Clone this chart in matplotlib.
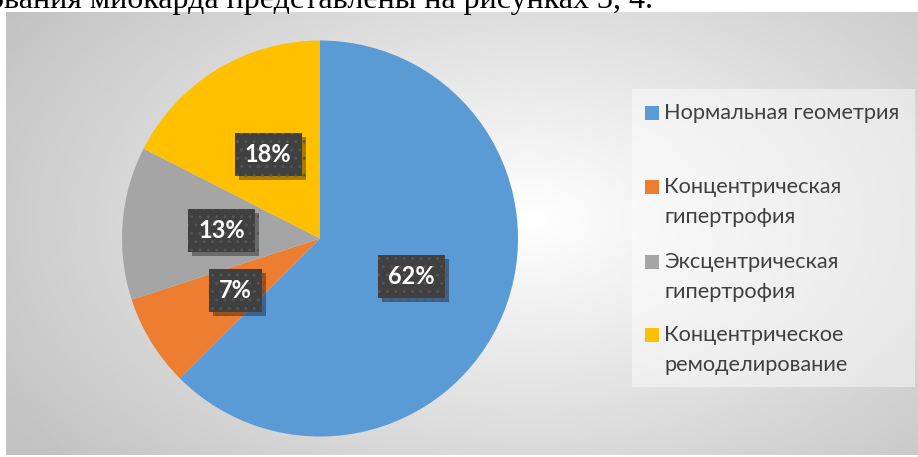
import numpy as np
import matplotlib.pyplot as plt
from matplotlib.patches import Rectangle
import matplotlib.patheffects as pe

W, H = 918, 457

categories = ["Нормальная геометрия", "Концентрическая\nгипертрофия",
              "Эксцентрическая\nгипертрофия", "Концентрическое\nремоделирование"]
shares = [62.5, 7.5, 12.5, 17.5]
pct_labels = ["62%", "7%", "13%", "18%"]
colors = ["#5b9bd5", "#ed7d31", "#a5a5a5", "#ffc000"]
caption = "ования миокарда представлены на рисунках 3, 4."


def fx(px):
    return px / W


def fy(py):
    return 1 - py / H


fig = plt.figure(figsize=(W / 100, H / 100), dpi=100)
fig.patch.set_facecolor("white")

# chart area with radial gradient
bg = fig.add_axes([fx(6), fy(455), fx(912), 443 / H])
xx, yy = np.meshgrid(np.linspace(6, 918, 400), np.linspace(12, 455, 200))
d = np.sqrt(((xx - 530) / 540) ** 2 + ((yy - 220) / 330) ** 2)
g = 1.0 - 0.24 * np.clip(d, 0, 1.15) / 1.15
bg.imshow(g, cmap="gray", vmin=0, vmax=1, aspect="auto",
          extent=[0, 1, 0, 1], interpolation="bilinear")
bg.set_axis_off()

# text of the document above the chart (cut at the top, as in the source)
fig.text(fx(-12), fy(8), caption, fontsize=23, family="Liberation Serif",
         va="baseline", ha="left", color="black", zorder=0)

# pie
r = 198
cx, cy = 320, 238.5
ax = fig.add_axes([fx(cx - r), fy(cy + r), 2 * r / W, 2 * r / H])
wedges, _ = ax.pie(shares, colors=colors, startangle=90, counterclock=False,
                   radius=1, wedgeprops=dict(linewidth=0))
ax.set_xlim(-1, 1)
ax.set_ylim(-1, 1)
ax.set_axis_off()

for w, lab in zip(wedges, pct_labels):
    ang = np.deg2rad((w.theta1 + w.theta2) / 2)
    t = ax.text(0.5 * np.cos(ang), 0.5 * np.sin(ang), lab, ha="center",
                va="center", color="white", fontsize=17, fontweight="bold",
                family="Lato",
                bbox=dict(boxstyle="square,pad=0.42", facecolor="#404040",
                          edgecolor="#555555", linewidth=0, hatch=".."))
    t.get_bbox_patch().set_path_effects(
        [pe.SimplePatchShadow(offset=(3, -3), shadow_rgbFace="black", alpha=0.35),
         pe.Normal()])

# legend
fig.patches.append(Rectangle((fx(632), fy(387)), fx(283), (387 - 89) / H,
                             transform=fig.transFigure, facecolor="white",
                             alpha=0.45, edgecolor="none", zorder=1))
entry_y = [113, 187, 262, 335]
for name, col, y in zip(categories, colors, entry_y):
    fig.patches.append(Rectangle((fx(645), fy(y + 7)), fx(14), 14 / H,
                                 transform=fig.transFigure, facecolor=col,
                                 edgecolor="none", zorder=2))
    fig.text(fx(664), fy(y - 10), name, fontsize=15.7, family="Lato",
             color="#404040", va="top", ha="left", linespacing=1.65)

fig.savefig("out.png", dpi=100)
